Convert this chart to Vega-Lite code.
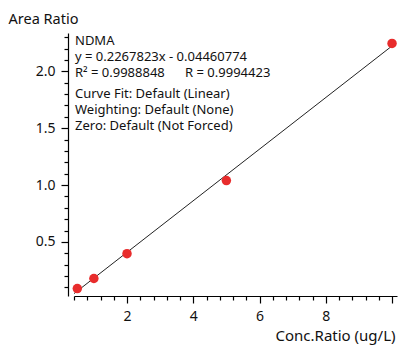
{
  "$schema": "https://vega.github.io/schema/vega-lite/v6.json",
  "autosize": "none",
  "width": 323,
  "height": 263,
  "padding": {"left": 74, "top": 33, "right": 19, "bottom": 50},
  "background": "white",
  "config": {
    "view": {"stroke": null},
    "font": "Noto Sans",
    "axis": {"grid": false, "domainColor": "black", "tickColor": "black", "labelColor": "#111", "titleColor": "#111", "labelFont": "Noto Sans", "titleFont": "Noto Sans", "titleFontWeight": "normal", "domainWidth": 1.2, "tickWidth": 1.2}
  },
  "datasets": {
    "points": [
      {"conc": 0.5, "area": 0.09},
      {"conc": 1, "area": 0.179},
      {"conc": 2, "area": 0.397},
      {"conc": 5, "area": 1.04},
      {"conc": 10, "area": 2.245}
    ],
    "fit": [
      {"conc": 0.4, "area": 0.04610518},
      {"conc": 10, "area": 2.22321526}
    ],
    "one": [{}]
  },
  "layer": [
    {
      "data": {"name": "fit"},
      "mark": {"type": "line", "color": "#222", "strokeWidth": 1, "clip": true},
      "encoding": {
        "x": {"field": "conc", "type": "quantitative", "scale": {"domain": [0.4, 10.15], "nice": false, "zero": false},
          "axis": {
            "values": [0.4,0.8,1.2,1.6,2,2.4,2.8,3.2,3.6,4,4.4,4.8,5.2,5.6,6,6.4,6.8,7.2,7.6,8,8.4,8.8,9.2,9.6,10],
            "tickCount": 100,
            "labelOverlap": false,
            "labelExpr": "datum.value < 9 && abs(datum.value/2 - round(datum.value/2)) < 0.001 ? format(datum.value, 'd') : ''",
            "tickSize": {"condition": {"test": "abs(datum.value/2 - round(datum.value/2)) < 0.001", "value": 7}, "value": 4},
            "labelPadding": 6,
            "labelFontSize": 14,
            "labelFlush": false,
            "title": "Conc.Ratio (ug/L)",
            "titleFontSize": 15,
            "titleAlign": "right",
            "titleBaseline": "alphabetic",
            "titleX": 321,
            "titleY": 44
          }
        },
        "y": {"field": "area", "type": "quantitative", "scale": {"domain": [0.025, 2.337], "nice": false, "zero": false},
          "axis": {
            "offset": 6,
            "values": [0.1,0.2,0.3,0.4,0.5,0.6,0.7,0.8,0.9,1.0,1.1,1.2,1.3,1.4,1.5,1.6,1.7,1.8,1.9,2.0,2.1,2.2,2.3],
            "tickCount": 100,
            "labelOverlap": false,
            "labelExpr": "abs(datum.value*2 - round(datum.value*2)) < 0.001 ? format(datum.value, '.1f') : ''",
            "tickSize": {"condition": {"test": "abs(datum.value*2 - round(datum.value*2)) < 0.001", "value": 7}, "value": 4},
            "labelPadding": 6,
            "labelFontSize": 14,
            "labelFlush": false,
            "title": "Area Ratio",
            "titleFontSize": 14.5,
            "titleAngle": 0,
            "titleAlign": "left",
            "titleBaseline": "alphabetic",
            "titleX": -60,
            "titleY": -10
          }
        }
      }
    },
    {
      "data": {"name": "points"},
      "mark": {"type": "circle", "color": "#e82c2c", "opacity": 1, "size": 90},
      "encoding": {
        "x": {"field": "conc", "type": "quantitative"},
        "y": {"field": "area", "type": "quantitative"}
      }
    },
    {
      "data": {"name": "one"},
      "mark": {"type": "text", "align": "left", "baseline": "alphabetic", "fontSize": 13, "lineHeight": 16, "color": "#111", "dx": 1,
        "text": ["NDMA", "y = 0.2267823x - 0.04460774", "R² = 0.9988848\u00a0\u00a0\u00a0\u00a0\u00a0 R = 0.9994423"]},
      "encoding": {"x": {"datum": 0.4}, "y": {"datum": 2.234}}
    },
    {
      "data": {"name": "one"},
      "mark": {"type": "text", "align": "left", "baseline": "alphabetic", "fontSize": 13, "lineHeight": 16, "color": "#111", "dx": 1,
        "text": ["Curve Fit: Default (Linear)", "Weighting: Default (None)", "Zero: Default (Not Forced)"]},
      "encoding": {"x": {"datum": 0.4}, "y": {"datum": 1.768}}
    }
  ]
}
